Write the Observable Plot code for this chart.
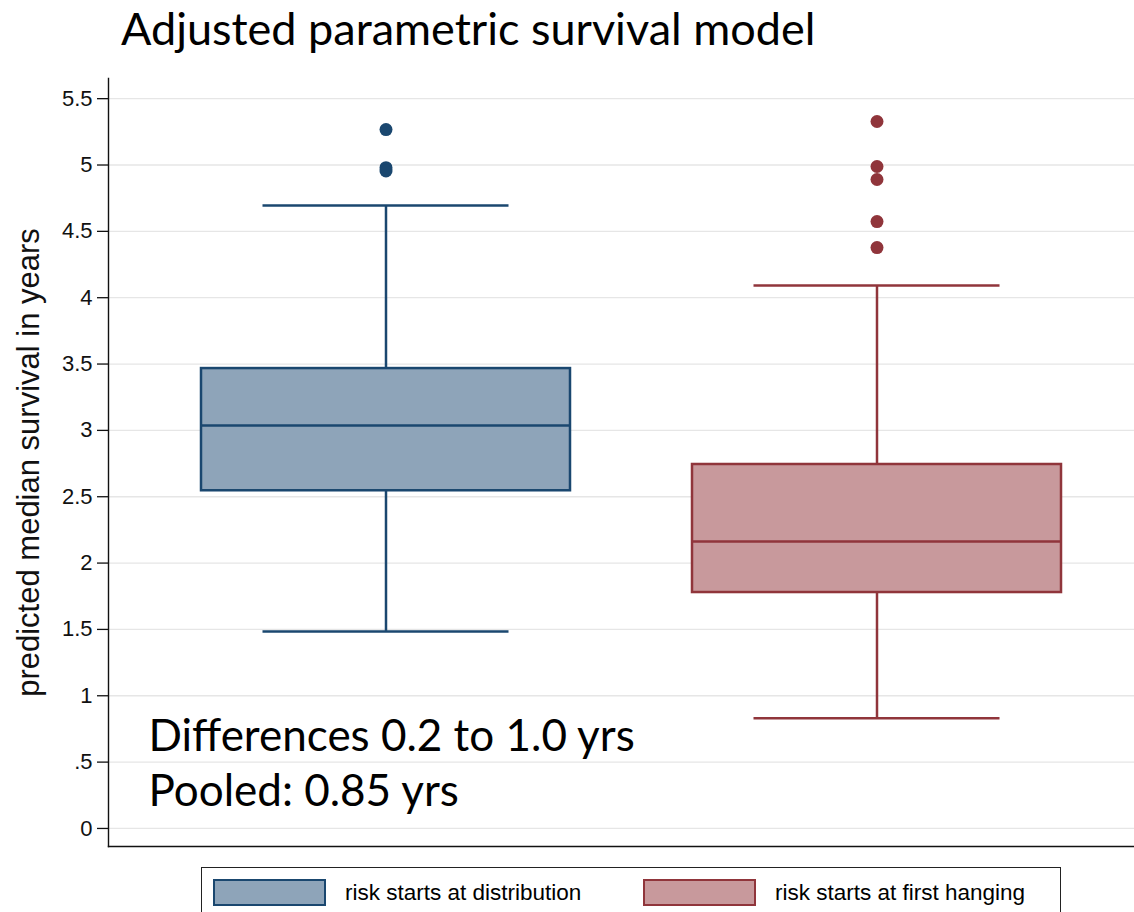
<!DOCTYPE html>
<html>
<head>
<meta charset="utf-8">
<script src="https://cdn.jsdelivr.net/npm/d3@7"></script>
<script src="https://cdn.jsdelivr.net/npm/@observablehq/plot@0.6"></script>
<style>
  html, body { margin: 0; padding: 0; background: #fff; }
  #wrap { position: relative; width: 1134px; height: 912px; overflow: hidden; }
  #title { position: absolute; left: 121px; top: 3px; font-family: Lato, "Open Sans", sans-serif; font-size: 45px; line-height: 1.15; color: #000; white-space: nowrap; }
  #chart { position: absolute; left: 0; top: 0; }
  #legend { position: absolute; left: 201px; top: 867px; width: 860px; height: 60px; border: 1.5px solid #222; box-sizing: border-box; }
  .item { position: absolute; top: 11px; display: flex; align-items: center; font-family: "Liberation Sans", Arial, sans-serif; font-size: 22.5px; color: #000; }
  .swatch { width: 113px; height: 27px; box-sizing: border-box; border: 2.5px solid; margin-right: 19px; }
</style>
</head>
<body>
<div id="wrap">
  <div id="chart"></div>
  <div id="title">Adjusted parametric survival model</div>
  <div id="legend"></div>
</div>
<script>
// Two definitions of when the risk period begins
const groups = ["risk starts at distribution", "risk starts at first hanging"];

// Box-plot summaries of predicted median survival (years)
const lowerWhisker = [1.485, 0.83];
const q1 = [2.545, 1.778];
const median = [3.037, 2.163];
const q3 = [3.466, 2.743];
const upperWhisker = [4.695, 4.092];

// Outlying predictions above the upper whisker
const outliersDistribution = [5.267, 4.98, 4.955];
const outliersHanging = [5.328, 4.989, 4.891, 4.574, 4.378];

// Y axis ticks
const yTicks = [0, 0.5, 1, 1.5, 2, 2.5, 3, 3.5, 4, 4.5, 5, 5.5];

const strokeColors = ["#1a476f", "#90353b"];
const fillColors = ["#8ea4b9", "#c8999c"];

const stats = groups.map((g, i) => ({
  group: g, lo: lowerWhisker[i], q1: q1[i], med: median[i], q3: q3[i], hi: upperWhisker[i]
}));
const outliers = [
  ...outliersDistribution.map(v => ({group: groups[0], value: v})),
  ...outliersHanging.map(v => ({group: groups[1], value: v}))
];

const W = 1134, H = 912;
const fillOf = d => fillColors[groups.indexOf(d.group)];
const strokeOf = d => strokeColors[groups.indexOf(d.group)];

const chart = Plot.plot({
  width: W,
  height: H,
  marginTop: 78,
  marginBottom: 66,
  marginLeft: 108,
  marginRight: 0,
  style: {background: "#fff", overflow: "visible"},
  x: {type: "band", domain: groups, range: [108, 1154.6], paddingInner: 0.249, paddingOuter: 0.189, axis: null},
  y: {domain: [-0.136, 5.652]},
  marks: [
    // horizontal gridlines
    Plot.ruleY(yTicks, {stroke: "#e6e6e6", strokeWidth: 1.3}),
    // axis lines (left and bottom)
    Plot.frame({anchor: "left", stroke: "#111", strokeWidth: 1.4}),
    Plot.frame({anchor: "bottom", stroke: "#111", strokeWidth: 1.4}),
    Plot.axisY({
      ticks: yTicks,
      tickFormat: d => d === 0 ? "0" : String(d).replace(/^0\./, "."),
      tickSize: 11, tickPadding: 5, fontSize: 22,
      fontFamily: "Liberation Sans, Arial, sans-serif",
      stroke: "#111", strokeWidth: 1.3, color: "#111",
      label: null
    }),
    Plot.axisY({
      ticks: [], label: "predicted median survival in years",
      labelAnchor: "center", labelOffset: 92, labelArrow: "none",
      fontSize: 31, fontFamily: "Liberation Sans, Arial, sans-serif", color: "#111"
    }),
    // whiskers
    Plot.ruleX(stats, {x: "group", y1: "lo", y2: "q1", stroke: strokeOf, strokeWidth: 2.5}),
    Plot.ruleX(stats, {x: "group", y1: "q3", y2: "hi", stroke: strokeOf, strokeWidth: 2.5}),
    Plot.tickY(stats, {x: "group", y: "lo", stroke: strokeOf, strokeWidth: 2.5, insetLeft: 61.5, insetRight: 61.5}),
    Plot.tickY(stats, {x: "group", y: "hi", stroke: strokeOf, strokeWidth: 2.5, insetLeft: 61.5, insetRight: 61.5}),
    // boxes and medians
    Plot.barY(stats, {x: "group", y1: "q1", y2: "q3", fill: fillOf, stroke: strokeOf, strokeWidth: 2.5}),
    Plot.tickY(stats, {x: "group", y: "med", stroke: strokeOf, strokeWidth: 2.5}),
    // outliers
    Plot.dot(outliers, {x: "group", y: "value", r: 6.5, fill: strokeOf, stroke: "none"}),
    // annotation
    Plot.text(["Differences 0.2 to 1.0 yrs\nPooled: 0.85 yrs"], {
      frameAnchor: "bottom-left", textAnchor: "start", lineAnchor: "bottom",
      dx: 40, dy: -41, lineHeight: 1.25,
      fontSize: 44, fontFamily: "Lato, 'Open Sans', sans-serif", fill: "#000"
    })
  ]
});
document.getElementById("chart").appendChild(chart);

// Legend
const legend = document.getElementById("legend");
const itemX = [11, 441];
groups.forEach((g, i) => {
  const item = document.createElement("div");
  item.className = "item";
  item.style.left = itemX[i] + "px";
  const sw = document.createElement("div");
  sw.className = "swatch";
  sw.style.background = fillColors[i];
  sw.style.borderColor = strokeColors[i];
  const label = document.createElement("span");
  label.textContent = g;
  item.appendChild(sw);
  item.appendChild(label);
  legend.appendChild(item);
});
</script>
</body>
</html>
